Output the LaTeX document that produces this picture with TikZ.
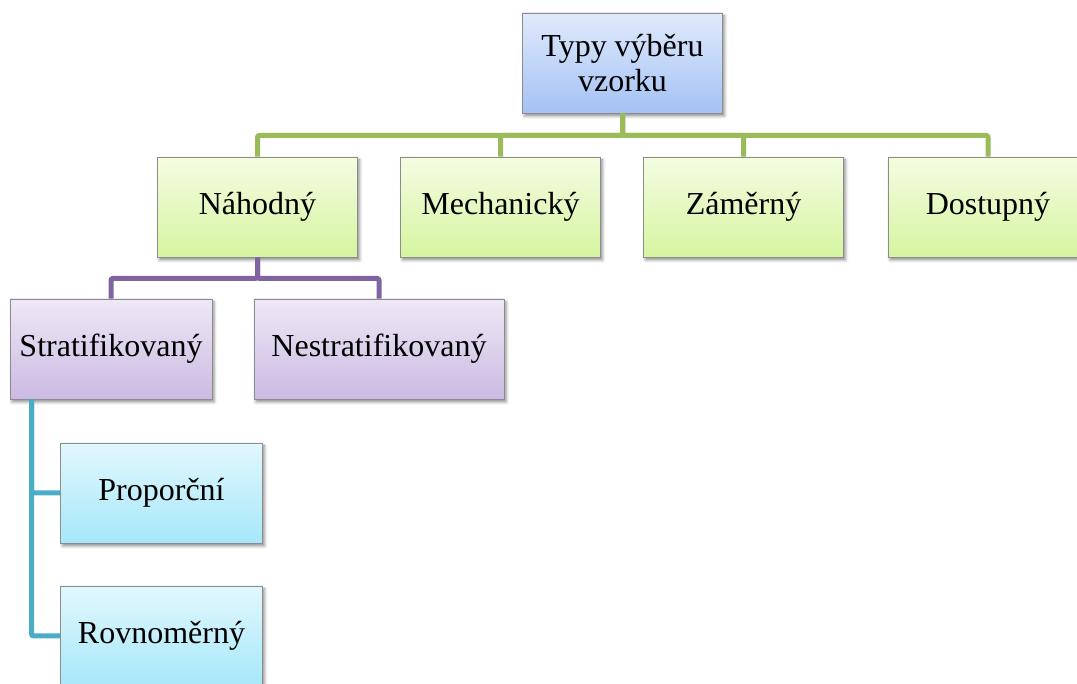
\documentclass[tikz,border=0pt]{standalone}
\usepackage{fontspec}
\setmainfont{Liberation Serif}
\newfontfamily\boxfont{Liberation Serif}
\usetikzlibrary{shadows.blur}
\definecolor{boxline}{HTML}{8C8C8C}
\definecolor{gline}{HTML}{9BBB59}
\definecolor{pline}{HTML}{8064A2}
\definecolor{cline}{HTML}{4BACC6}
\tikzset{
  box/.style={draw=boxline, line width=0.8pt, minimum width=200pt, minimum height=100pt,
    inner sep=0pt, align=center, font=\boxfont\fontsize{32}{35}\selectfont,
    blur shadow={shadow xshift=2pt, shadow yshift=-3pt, shadow blur radius=3pt, shadow opacity=45}},
  rootbox/.style={box, top color={rgb,255:red,224;green,234;blue,252}, bottom color={rgb,255:red,164;green,194;blue,244}},
  greenbox/.style={box, top color={rgb,255:red,244;green,252;blue,226}, bottom color={rgb,255:red,214;green,245;blue,160}},
  purplebox/.style={box, top color={rgb,255:red,238;green,232;blue,246}, bottom color={rgb,255:red,203;green,186;blue,226}},
  cyanbox/.style={box, top color={rgb,255:red,226;green,247;blue,253}, bottom color={rgb,255:red,166;green,232;blue,250}},
  conn/.style={line width=5pt, rounded corners=2pt},
}
\begin{document}
\begin{tikzpicture}[x=1pt,y=1pt]
\useasboundingbox (0,0) rectangle (1077,684);
\coordinate (rootpos) at (622.5,621);
\coordinate (nahpos) at (257.5,477);
\coordinate (mecpos) at (500.5,477);
\coordinate (zampos) at (743.5,477);
\coordinate (dospos) at (988,477);
\coordinate (strpos) at (111,335);
\coordinate (nespos) at (379,335);
\coordinate (propos) at (161.5,191);
\coordinate (rovpos) at (161.5,48);

% boxes of the sampling tree
\node[rootbox] (root) at (rootpos) {Typy výběru\\vzorku};
\node[greenbox] (nah) at (nahpos) {Náhodný};
\node[greenbox] (mec) at (mecpos) {Mechanický};
\node[greenbox] (zam) at (zampos) {Záměrný};
\node[greenbox] (dos) at (dospos) {Dostupný};
\node[purplebox, minimum width=202pt] (str) at (strpos) {Stratifikovaný};
\node[purplebox, minimum width=250pt] (nes) at (nespos) {Nestratifikovaný};
\node[cyanbox, minimum width=202pt] (pro) at (propos) {Proporční};
\node[cyanbox, minimum width=202pt] (rov) at (rovpos) {Rovnoměrný};

% tree lines
\draw[conn, gline] (root.south) -- ++(0,-22) -| (nah.north);
\draw[conn, gline] (root.south) -- ++(0,-22) -| (mec.north);
\draw[conn, gline] (root.south) -- ++(0,-22) -| (zam.north);
\draw[conn, gline] (root.south) -- ++(0,-22) -| (dos.north);
\draw[conn, pline] (nah.south) -- ++(0,-21) -| (str.north);
\draw[conn, pline] (nah.south) -- ++(0,-21) -| (nes.north);
\draw[conn, cline] ([xshift=22pt]str.south west) |- (pro.west);
\draw[conn, cline] ([xshift=22pt]str.south west) |- (rov.west);
\end{tikzpicture}
\end{document}
